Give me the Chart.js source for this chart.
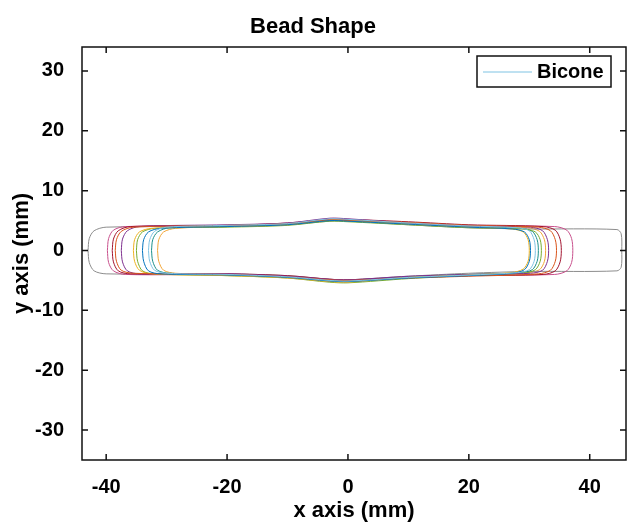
<!DOCTYPE html>
<html>
<head>
<meta charset="utf-8">
<script src="https://cdn.jsdelivr.net/npm/chart.js@4.4.0/dist/chart.umd.min.js"></script>
<style>
  html, body { margin: 0; padding: 0; background: #fff; }
  #wrap { width: 628px; height: 524px; }
</style>
</head>
<body>
<div id="wrap"><canvas id="bead_shape"></canvas></div>
<script>
// tick labels
var xTicks = [-40, -20, 0, 20, 40];
var yTicks = [-30, -20, -10, 0, 10, 20, 30];

// bead outlines [x, y] in mm, traced round from the left end
var beadBicone = [[-33,0],[-32.8,1.8],[-32,3.2],[-30,3.9],[-20,4.2],[-10,4.5],[-3,5.3],[0,5.2],[10,4.6],[20,4.1],[28,3.8],[30,3.3],[30.8,1.8],[31,0],[30.8,-1.8],[30,-3.2],[28,-3.7],[20,-4.1],[10,-4.5],[0,-5.1],[-3,-5.0],[-10,-4.4],[-20,-4.0],[-30,-3.8],[-32,-3.3],[-32.8,-1.8],[-33,0]];
var beadBlue = [[-34,0],[-33.8,1.8],[-33,3.1],[-31,3.7],[-20,4.0],[-10,4.3],[-3,5.0],[0,4.9],[10,4.4],[20,3.9],[27.2,3.6],[29.2,3.1],[30,1.8],[30.2,0],[30,-1.8],[29.2,-3.2],[27.2,-3.8],[20,-4.2],[10,-4.6],[0,-5.2],[-3,-5.1],[-10,-4.5],[-20,-4.1],[-31,-3.9],[-33,-3.4],[-33.8,-1.8],[-34,0]];
var beadOrange = [[-38.5,0],[-38.3,1.8],[-37.5,3.2],[-35.5,3.9],[-20,4.2],[-10,4.5],[-3,5.1],[0,5.0],[10,4.7],[20,4.2],[31.5,3.9],[33.5,3.3],[34.3,1.8],[34.5,0],[34.3,-1.8],[33.5,-3.3],[31.5,-3.9],[20,-4.3],[10,-4.6],[0,-5.0],[-3,-4.9],[-10,-4.4],[-20,-4.0],[-35.5,-3.8],[-37.5,-3.3],[-38.3,-1.8],[-38.5,0]];
var beadYellow = [[-35.5,0],[-35.3,1.8],[-34.5,3.1],[-32.5,3.7],[-20,4.0],[-10,4.3],[-3,5.1],[0,5.0],[10,4.4],[20,3.9],[27,3.6],[29,3.1],[29.8,1.8],[30,0],[29.8,-1.8],[29,-3.1],[27,-3.7],[20,-4.1],[10,-4.5],[0,-5.3],[-3,-5.2],[-10,-4.6],[-20,-4.2],[-32.5,-3.9],[-34.5,-3.3],[-35.3,-1.8],[-35.5,0]];
var beadPurple = [[-37.5,0],[-37.3,1.9],[-36.5,3.3],[-34.5,4.0],[-20,4.3],[-10,4.6],[-3,5.4],[0,5.3],[10,4.6],[20,4.1],[30.2,3.9],[32.2,3.3],[33,1.8],[33.2,0],[33,-1.8],[32.2,-3.3],[30.2,-3.8],[20,-4.0],[10,-4.3],[0,-4.9],[-3,-4.8],[-10,-4.3],[-20,-3.9],[-34.5,-3.9],[-36.5,-3.4],[-37.3,-1.9],[-37.5,0]];
var beadGreen = [[-35,0],[-34.8,1.8],[-34,3.1],[-32,3.7],[-20,3.9],[-10,4.2],[-3,4.9],[0,4.8],[10,4.3],[20,3.8],[29,3.6],[31,3.1],[31.8,1.8],[32,0],[31.8,-1.8],[31,-3.2],[29,-3.8],[20,-4.2],[10,-4.7],[0,-5.4],[-3,-5.3],[-10,-4.6],[-20,-4.2],[-32,-3.9],[-34,-3.4],[-34.8,-1.8],[-35,0]];
var beadRed = [[-39,0],[-38.8,1.9],[-38,3.3],[-36,4.0],[-20,4.2],[-10,4.6],[-3,5.2],[0,5.2],[10,4.8],[20,4.3],[32.3,4.0],[34.3,3.4],[35.1,1.9],[35.3,0],[35.1,-1.9],[34.3,-3.4],[32.3,-4.0],[20,-4.2],[10,-4.5],[0,-4.9],[-3,-4.8],[-10,-4.2],[-20,-3.9],[-36,-3.9],[-38,-3.4],[-38.8,-1.9],[-39,0]];
var beadTeal = [[-32.5,0],[-32.3,1.8],[-31.5,3.1],[-29.5,3.8],[-20,4.0],[-10,4.4],[-3,5.0],[0,5.0],[10,4.5],[20,4.0],[28.5,3.7],[30.5,3.2],[31.3,1.8],[31.5,0],[31.3,-1.8],[30.5,-3.2],[28.5,-3.7],[20,-4.0],[10,-4.4],[0,-5.0],[-3,-5.0],[-10,-4.4],[-20,-4.0],[-29.5,-3.8],[-31.5,-3.3],[-32.3,-1.8],[-32.5,0]];
var beadPink = [[-39.8,0],[-39.6,2.0],[-38.8,3.4],[-36.8,4.0],[-20,4.1],[-10,4.4],[-3,5.0],[0,5.0],[10,4.5],[20,4.1],[34.2,4.0],[36.2,3.4],[37,2.0],[37.2,0],[37,-2.0],[36.2,-3.4],[34.2,-4.0],[20,-4.1],[10,-4.4],[0,-5.1],[-3,-5.0],[-10,-4.4],[-20,-4.0],[-36.8,-4.0],[-38.8,-3.4],[-39.6,-2.0],[-39.8,0]];
var beadGray = [[-43,0],[-42.8,2.0],[-42,3.3],[-40,3.9],[-20,4.0],[-10,4.3],[-3,4.9],[0,4.9],[10,4.3],[20,3.8],[30,3.6],[44.5,3.5],[45.2,2.8],[45.3,0],[45.2,-2.8],[44.5,-3.4],[30,-3.5],[20,-3.8],[10,-4.3],[0,-4.9],[-3,-4.8],[-10,-4.2],[-20,-3.9],[-40,-3.9],[-42,-3.4],[-42.8,-2.0],[-43,0]];
var beadAmber = [[-31.5,0],[-31.3,1.8],[-30.5,3.1],[-28.5,3.7],[-20,4.0],[-10,4.3],[-3,5.1],[0,5.1],[10,4.6],[20,4.0],[29.7,3.8],[31.7,3.2],[32.5,1.8],[32.7,0],[32.5,-1.8],[31.7,-3.2],[29.7,-3.7],[20,-4.0],[10,-4.5],[0,-5.2],[-3,-5.1],[-10,-4.5],[-20,-4.1],[-28.5,-3.8],[-30.5,-3.3],[-31.3,-1.8],[-31.5,0]];

var beads = [
  {label: 'Bicone', pts: beadBicone, color: '#7fc3e3'},
  {label: 'b2', pts: beadBlue, color: '#0072BD'},
  {label: 'b3', pts: beadOrange, color: '#D95319'},
  {label: 'b4', pts: beadYellow, color: '#EDB120'},
  {label: 'b5', pts: beadPurple, color: '#7E2F8E'},
  {label: 'b6', pts: beadGreen, color: '#77AC30'},
  {label: 'b7', pts: beadRed, color: '#A2142F'},
  {label: 'b8', pts: beadTeal, color: '#1b8f8a'},
  {label: 'b9', pts: beadPink, color: '#c8508c'},
  {label: 'b10', pts: beadGray, color: '#8c8c8c'},
  {label: 'b11', pts: beadAmber, color: '#f2a535'}
];

var FONT = "'Liberation Sans', Arial, sans-serif";
Chart.defaults.font.family = FONT;
Chart.defaults.color = '#000';

// box, inward ticks on all four sides and the in-plot legend, matlab style
var matlabAxes = {
  id: 'matlabAxes',
  afterDraw: function (chart) {
    var ctx = chart.ctx, a = chart.chartArea;
    var xs = chart.scales.x, ys = chart.scales.y;
    ctx.save();
    ctx.strokeStyle = '#111';
    ctx.lineWidth = 1.5;
    ctx.strokeRect(a.left, a.top, a.right - a.left, a.bottom - a.top);
    ctx.beginPath();
    xTicks.forEach(function (v) {
      var px = xs.getPixelForValue(v);
      ctx.moveTo(px, a.bottom); ctx.lineTo(px, a.bottom - 6);
      ctx.moveTo(px, a.top); ctx.lineTo(px, a.top + 6);
    });
    yTicks.forEach(function (v) {
      var py = ys.getPixelForValue(v);
      ctx.moveTo(a.left, py); ctx.lineTo(a.left + 6, py);
      ctx.moveTo(a.right, py); ctx.lineTo(a.right - 6, py);
    });
    ctx.stroke();

    // legend box
    var bx = a.right - 149, by = a.top + 9, bw = 134, bh = 31;
    ctx.fillStyle = '#fff';
    ctx.fillRect(bx, by, bw, bh);
    ctx.lineWidth = 1.5;
    ctx.strokeRect(bx, by, bw, bh);
    ctx.strokeStyle = beads[0].color;
    ctx.lineWidth = 1;
    ctx.beginPath();
    ctx.moveTo(bx + 6, by + 16); ctx.lineTo(bx + 55, by + 16);
    ctx.stroke();
    ctx.fillStyle = '#000';
    ctx.font = 'bold 20px ' + FONT;
    ctx.textBaseline = 'middle';
    ctx.fillText(beads[0].label, bx + 60, by + 16);
    ctx.restore();
  }
};

new Chart(document.getElementById('bead_shape'), {
  type: 'scatter',
  data: {
    datasets: beads.map(function (b) {
      return {
        label: b.label,
        data: b.pts.map(function (p) { return {x: p[0], y: p[1]}; }),
        showLine: true,
        borderColor: b.color,
        backgroundColor: b.color,
        borderWidth: 1,
        pointRadius: 0,
        tension: 0.3,
        fill: false
      };
    })
  },
  options: {
    responsive: true,
    maintainAspectRatio: false,
    animation: false,
    layout: {padding: {right: 2}},
    plugins: {
      legend: {display: false},
      tooltip: {enabled: false},
      title: {
        display: true,
        text: 'Bead Shape',
        color: '#000',
        font: {size: 22, weight: 'bold'},
        padding: {top: 14, bottom: 6.6}
      }
    },
    scales: {
      x: {
        type: 'linear',
        position: 'bottom',
        min: -44,
        max: 46,
        grid: {display: false, drawTicks: false},
        border: {display: false},
        ticks: {font: {size: 20, weight: 'bold'}, color: '#000', padding: 15, maxRotation: 0},
        title: {display: true, text: 'x axis (mm)', color: '#000', font: {size: 22, weight: 'bold'}, padding: {top: 0, bottom: 0}},
        afterBuildTicks: function (s) { s.ticks = xTicks.map(function (v) { return {value: v}; }); },
        afterFit: function (s) { s.height = 64; }
      },
      y: {
        type: 'linear',
        min: -35,
        max: 34,
        grid: {display: false, drawTicks: false},
        border: {display: false},
        ticks: {font: {size: 20, weight: 'bold'}, color: '#000', padding: 18},
        title: {display: true, text: 'y axis (mm)', color: '#000', font: {size: 22, weight: 'bold'}, padding: {top: 9, bottom: 0}},
        afterBuildTicks: function (s) { s.ticks = yTicks.map(function (v) { return {value: v}; }); },
        afterFit: function (s) { s.width = 82; }
      }
    }
  },
  plugins: [matlabAxes]
});
</script>
</body>
</html>
